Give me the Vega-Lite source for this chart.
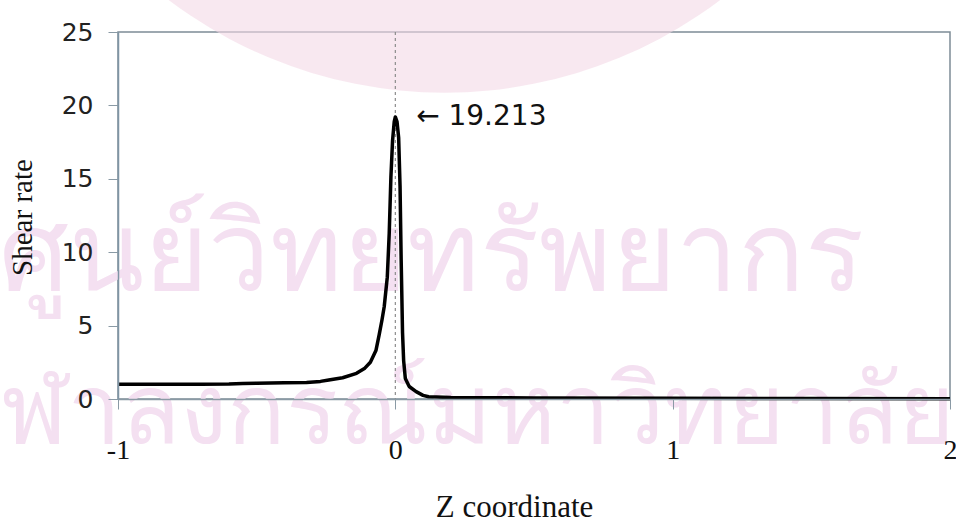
{
  "$schema": "https://vega.github.io/schema/vega-lite/v6.json",
  "width": 832,
  "height": 367,
  "autosize": "none",
  "padding": {"left": 118, "top": 32, "right": 6, "bottom": 124},
  "background": "white",
  "config": {
    "view": {"stroke": "#7d8c96", "strokeWidth": 1.5},
    "axis": {"grid": false}
  },
  "datasets": {
    "curve": [
      {"z": -1.0, "rate": 1.0},
      {"z": -0.9, "rate": 1.0},
      {"z": -0.8, "rate": 1.0},
      {"z": -0.7, "rate": 1.0},
      {"z": -0.6, "rate": 1.02},
      {"z": -0.55, "rate": 1.06},
      {"z": -0.5, "rate": 1.08},
      {"z": -0.4, "rate": 1.1},
      {"z": -0.32, "rate": 1.12},
      {"z": -0.27, "rate": 1.2},
      {"z": -0.24, "rate": 1.3},
      {"z": -0.19, "rate": 1.45},
      {"z": -0.14, "rate": 1.75},
      {"z": -0.11, "rate": 2.1},
      {"z": -0.09, "rate": 2.5},
      {"z": -0.07, "rate": 3.3},
      {"z": -0.058, "rate": 4.4},
      {"z": -0.048, "rate": 5.4},
      {"z": -0.04, "rate": 6.3},
      {"z": -0.029, "rate": 8.3},
      {"z": -0.022, "rate": 11.3},
      {"z": -0.016, "rate": 15.1},
      {"z": -0.01, "rate": 17.6},
      {"z": -0.004, "rate": 18.9},
      {"z": 0.0, "rate": 19.213},
      {"z": 0.006, "rate": 18.9},
      {"z": 0.012, "rate": 17.8},
      {"z": 0.017, "rate": 14.5},
      {"z": 0.021, "rate": 9.5},
      {"z": 0.026, "rate": 4.5},
      {"z": 0.03, "rate": 2.6},
      {"z": 0.036, "rate": 1.4},
      {"z": 0.05, "rate": 0.85},
      {"z": 0.075, "rate": 0.5},
      {"z": 0.1, "rate": 0.25},
      {"z": 0.12, "rate": 0.15},
      {"z": 0.2, "rate": 0.1},
      {"z": 0.5, "rate": 0.07},
      {"z": 1.0, "rate": 0.05},
      {"z": 1.5, "rate": 0.03},
      {"z": 2.0, "rate": 0.02}
    ],
    "marker": [{"z": 0}],
    "note": [{"z": 0.075, "rate": 19.2, "label": "←  19.213"}],
    "logo": [{"z": 0.177, "rate": 52.0}],
    "watermark1": [{"z": -1.43, "rate": 7.4, "label": "ศูนย์วิทยทรัพยากร"}],
    "watermark2": [{"z": 2.018, "rate": -3.0, "label": "จุฬาลงกรณ์มหาวิทยาลัย"}]
  },
  "layer": [
    {
      "data": {"name": "logo"},
      "mark": {"type": "point", "shape": "circle", "filled": true, "size": 835396, "color": "#f3d8e6", "opacity": 0.6, "clip": false},
      "encoding": {
        "x": {"field": "z", "type": "quantitative", "scale": {"domain": [-1, 2]}},
        "y": {"field": "rate", "type": "quantitative", "scale": {"domain": [0, 25]}}
      }
    },
    {
      "data": {"name": "watermark1"},
      "mark": {"type": "text", "align": "left", "baseline": "alphabetic", "fontSize": 110, "font": "Noto Sans", "color": "#f4e0f1", "clip": false},
      "encoding": {
        "x": {"field": "z", "type": "quantitative"},
        "y": {"field": "rate", "type": "quantitative"},
        "text": {"field": "label"}
      }
    },
    {
      "data": {"name": "watermark2"},
      "mark": {"type": "text", "align": "right", "baseline": "alphabetic", "fontSize": 97, "font": "Noto Sans", "color": "#f4e0f1", "clip": false},
      "encoding": {
        "x": {"field": "z", "type": "quantitative"},
        "y": {"field": "rate", "type": "quantitative"},
        "text": {"field": "label"}
      }
    },
    {
      "data": {"name": "marker"},
      "mark": {"type": "rule", "color": "#8c8c8c", "strokeDash": [3, 3], "strokeWidth": 1.2},
      "encoding": {
        "x": {"field": "z", "type": "quantitative"}
      }
    },
    {
      "data": {"name": "curve"},
      "mark": {"type": "line", "color": "#000000", "strokeWidth": 3.5, "strokeJoin": "round"},
      "encoding": {
        "x": {
          "field": "z", "type": "quantitative",
          "scale": {"domain": [-1, 2], "nice": false, "zero": false},
          "axis": {
            "values": [-1, 0, 1, 2], "labelExpr": "'' + datum.value", "zindex": 1,
            "title": "Z coordinate", "titleX": 396, "titleY": 117, "titleBaseline": "alphabetic",
            "titleFont": "Liberation Serif", "titleFontSize": 31, "titleFontWeight": "normal", "titleColor": "#111",
            "labelFont": "Liberation Serif", "labelFontSize": 28, "labelColor": "#111",
            "labelPadding": 27, "tickSize": 10, "tickColor": "#8a9aa5", "domainColor": "#8a9aa5", "domainWidth": 1.5,
            "labelFlush": false
          }
        },
        "y": {
          "field": "rate", "type": "quantitative",
          "scale": {"domain": [0, 25], "nice": false},
          "axis": {
            "values": [0, 5, 10, 15, 20, 25], "zindex": 1,
            "title": "Shear rate", "titleX": -81, "titleY": 185, "titleAlign": "center", "titleBaseline": "bottom",
            "titleFont": "Liberation Serif", "titleFontSize": 29, "titleFontWeight": "normal", "titleColor": "#111",
            "labelFont": "DejaVu Sans", "labelFontSize": 25, "labelColor": "#222",
            "labelPadding": 15, "tickSize": 10, "tickColor": "#8a9aa5", "domainColor": "#7f95a5", "domainWidth": 1.5,
            "labelFlush": false
          }
        }
      }
    },
    {
      "data": {"name": "note"},
      "mark": {"type": "text", "align": "left", "baseline": "middle", "font": "DejaVu Sans", "fontSize": 28, "color": "#111"},
      "encoding": {
        "x": {"field": "z", "type": "quantitative"},
        "y": {"field": "rate", "type": "quantitative"},
        "text": {"field": "label"}
      }
    }
  ]
}
